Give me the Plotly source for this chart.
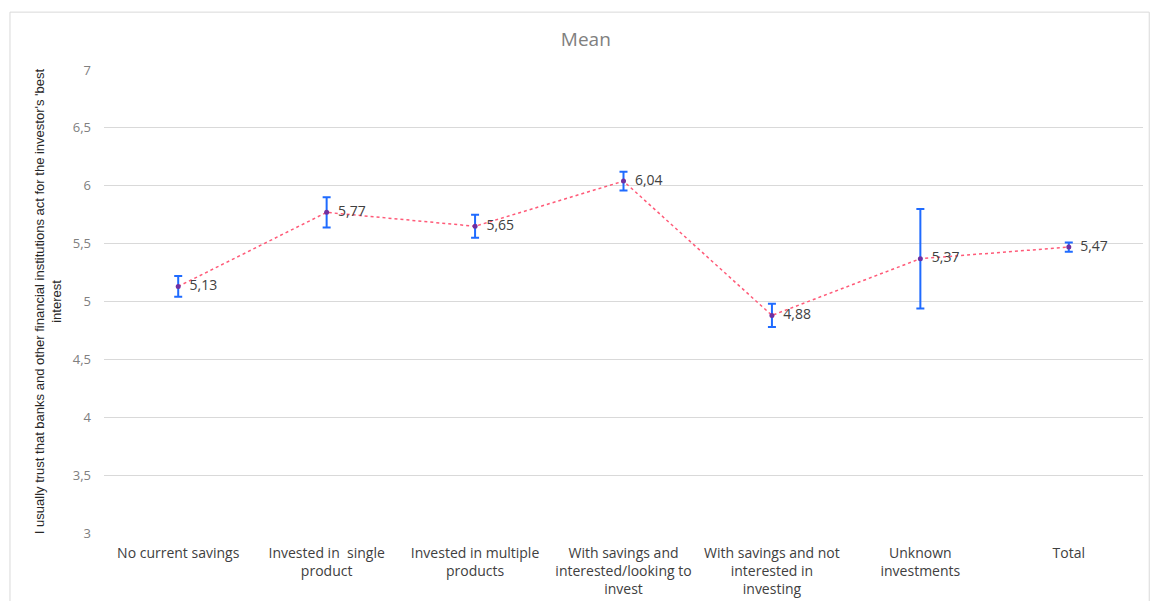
import plotly.graph_objects as go

categories = [
    "No current savings",
    "Invested in  single<br>product",
    "Invested in multiple<br>products",
    "With savings and<br>interested/looking to<br>invest",
    "With savings and not<br>interested in<br>investing",
    "Unknown<br>investments",
    "Total",
]
means = [5.13, 5.77, 5.65, 6.04, 4.88, 5.37, 5.47]
errors = [0.09, 0.13, 0.10, 0.08, 0.10, 0.43, 0.04]
y_ticks = [3, 3.5, 4, 4.5, 5, 5.5, 6, 6.5, 7]

labels = [f"{v:.2f}".replace(".", ",") for v in means]

fig = go.Figure()
fig.add_trace(go.Scatter(
    x=categories,
    y=means,
    mode="lines+markers+text",
    line=dict(color="#ff5a78", width=1.5, dash="dot"),
    marker=dict(color="#7030a0", size=5),
    error_y=dict(type="data", array=errors, visible=True,
                 color="#1f6bff", thickness=2, width=4),
    text=["  " + t for t in labels],
    textposition="middle right",
    textfont=dict(family="Open Sans, sans-serif", size=14, color="#404040"),
    cliponaxis=False,
    showlegend=False,
))

fig.update_layout(
    width=1151,
    height=601,
    paper_bgcolor="white",
    plot_bgcolor="white",
    separators=",.",
    margin=dict(l=104, r=8, t=70, b=68, autoexpand=False),
    title=dict(text="Mean", x=0.509, xanchor="center", y=0.934, yanchor="middle",
               font=dict(family="Open Sans, sans-serif", size=19, color="#808080")),
    xaxis=dict(
        range=[-0.5, 6.5],
        automargin=False,
        showgrid=False, zeroline=False, showline=False, ticks="",
        ticklabelstandoff=10,
        tickfont=dict(family="Open Sans, sans-serif", size=14, color="#404040"),
    ),
    yaxis=dict(
        range=[3, 7],
        automargin=False,
        tickvals=y_ticks,
        showgrid=True, gridcolor="#d9d9d9", gridwidth=1,
        zeroline=False, showline=False, ticks="",
        ticklabelstandoff=12,
        tickfont=dict(family="Open Sans, sans-serif", size=13, color="#808080"),
        title=dict(
            text="I usually trust that banks and other financial institutions act for the investor's 'best<br>interest",
            font=dict(family="Liberation Sans, Arial, sans-serif",
                      size=13, color="#262626"),
            standoff=8,
        ),
    ),
    shapes=[dict(type="rect", xref="paper", yref="paper",
                 x0=-0.0905, x1=1.006, y0=-0.16, y1=1.125,
                 line=dict(color="#d9d9d9", width=1), fillcolor="rgba(0,0,0,0)")],
)

fig.write_html("out.html")
